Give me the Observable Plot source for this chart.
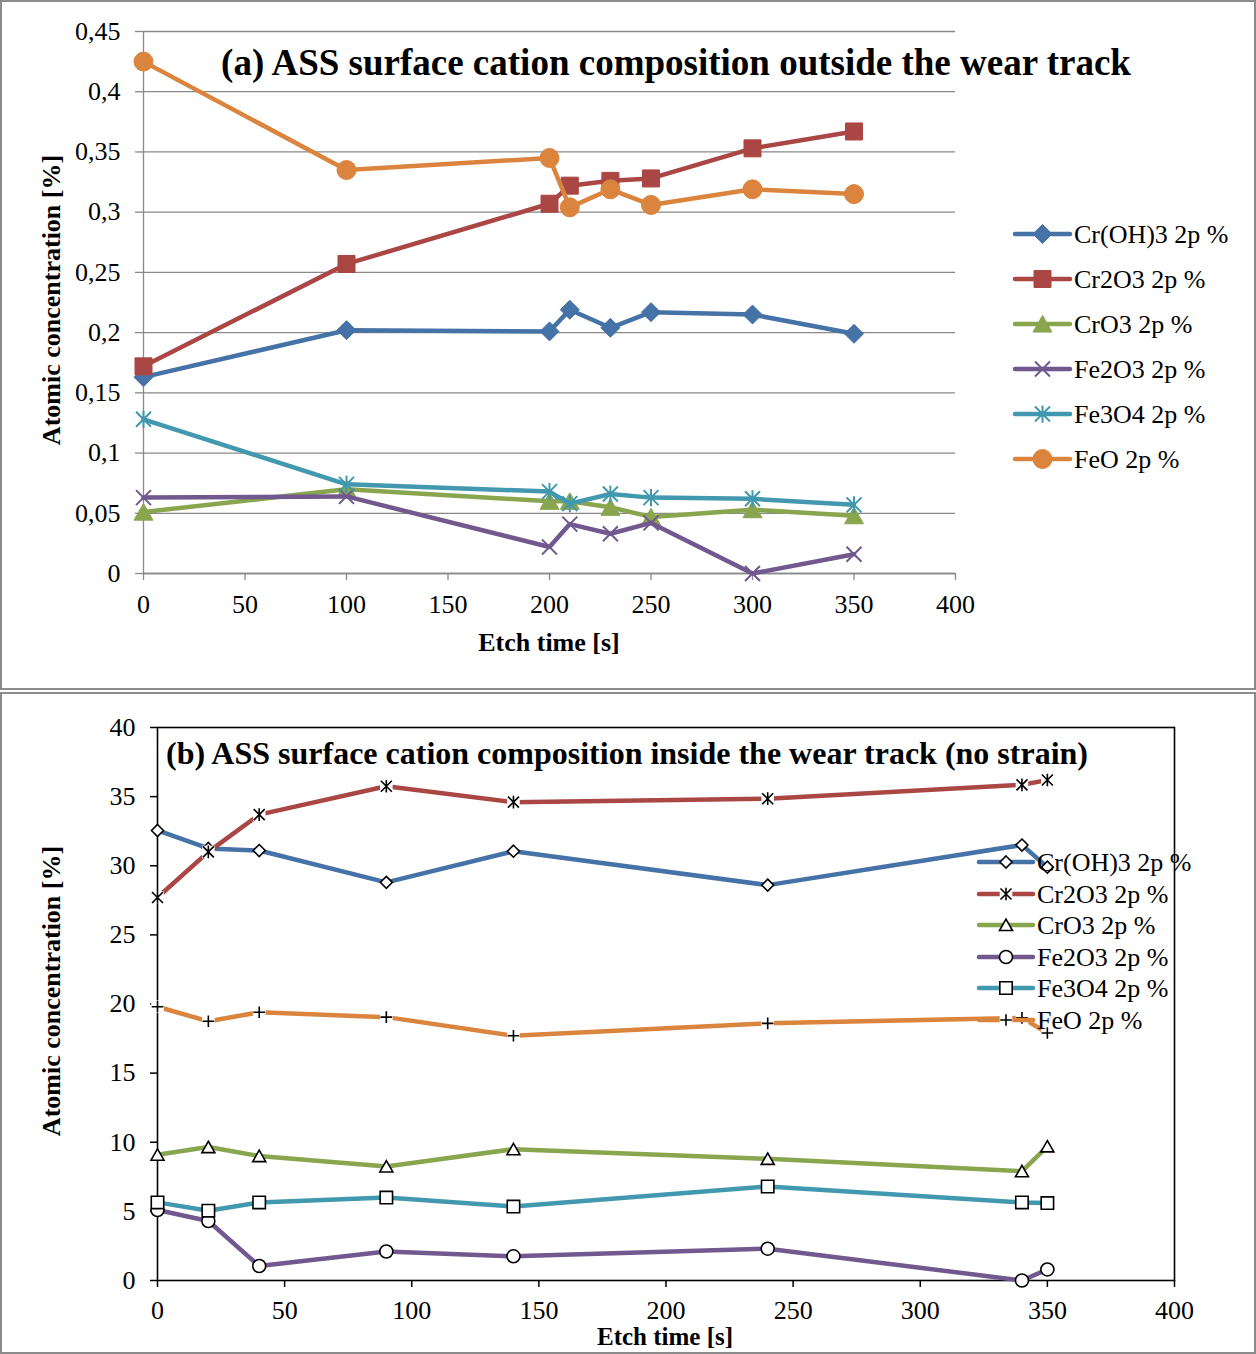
<!DOCTYPE html>
<html>
<head>
<meta charset="utf-8">
<script src="https://cdn.jsdelivr.net/npm/d3@7"></script>
<script src="https://cdn.jsdelivr.net/npm/@observablehq/plot@0.6"></script>
<style>
  body { margin: 0; background: #fff; }
  #root { position: relative; width: 1256px; height: 1354px; overflow: hidden; background: #fff; }
  .frame { position: absolute; border: 2px solid #8c8c8c; box-sizing: border-box; pointer-events: none; }
</style>
</head>
<body>
<div id="root"></div>
<script>
// ---------- data ----------
const series = ["Cr(OH)3 2p %", "Cr2O3 2p %", "CrO3 2p %", "Fe2O3 2p %", "Fe3O4 2p %", "FeO 2p %"];
const colors = ["#4572A7", "#AA4643", "#89A54E", "#71588F", "#4198AF", "#DB843D"];

// panel (a): outside the wear track
const etchA  = [0, 100, 200, 210, 230, 250, 300, 350];
const crOH3A = [0.163, 0.202, 0.201, 0.219, 0.204, 0.217, 0.215, 0.199];
const cr2o3A = [0.172, 0.257, 0.307, 0.322, 0.326, 0.328, 0.353, 0.367];
const cro3A  = [0.051, 0.070, 0.060, 0.060, 0.055, 0.047, 0.053, 0.048];
const fe2o3A = [0.063, 0.064, 0.022, 0.041, 0.033, 0.042, 0.000, 0.016];
const fe3o4A = [0.128, 0.074, 0.068, 0.058, 0.066, 0.063, 0.062, 0.057];
const feoA   = [0.425, 0.335, 0.345, 0.304, 0.319, 0.306, 0.319, 0.315];

// panel (b): inside the wear track (no strain)
const etchB  = [0, 20, 40, 90, 140, 240, 340, 350];
const crOH3B = [32.55, 31.25, 31.1, 28.8, 31.05, 28.6, 31.5, 29.9];
const cr2o3B = [27.7, 31.0, 33.7, 35.75, 34.6, 34.85, 35.85, 36.2];
const cro3B  = [9.1, 9.65, 9.0, 8.25, 9.5, 8.8, 7.9, 9.7];
const fe2o3B = [5.1, 4.3, 1.05, 2.1, 1.75, 2.3, 0.0, 0.8];
const fe3o4B = [5.65, 5.05, 5.65, 6.0, 5.35, 6.8, 5.65, 5.6];
const feoB   = [19.8, 18.75, 19.4, 19.05, 17.7, 18.6, 19.0, 17.9];

// ticks
const xTicksA = [0, 50, 100, 150, 200, 250, 300, 350, 400];
const yTicksA = [0, 0.05, 0.1, 0.15, 0.2, 0.25, 0.3, 0.35, 0.4, 0.45];
const yTickLabelsA = ["0", "0,05", "0,1", "0,15", "0,2", "0,25", "0,3", "0,35", "0,4", "0,45"];
const xTicksB = [0, 50, 100, 150, 200, 250, 300, 350, 400];
const yTicksB = [0, 5, 10, 15, 20, 25, 30, 35, 40];

const titleA = "(a) ASS surface cation composition outside the wear track";
const titleB = "(b) ASS surface cation composition inside the wear track (no strain)";
const xLabel = "Etch time [s]";
const yLabel = "Atomic concentration [%]";

// ---------- marker shapes (size = r*r*PI as in Plot) ----------
const rad = s => Math.sqrt(s / Math.PI);
const sym = {
  diamond:  {draw(c, s) { const r = rad(s); c.moveTo(0, -r); c.lineTo(r, 0); c.lineTo(0, r); c.lineTo(-r, 0); c.closePath(); }},
  square:   {draw(c, s) { const r = rad(s); c.moveTo(-r, -r); c.lineTo(r, -r); c.lineTo(r, r); c.lineTo(-r, r); c.closePath(); }},
  triangle: {draw(c, s) { const r = rad(s); c.moveTo(0, -0.9 * r); c.lineTo(r, 0.85 * r); c.lineTo(-r, 0.85 * r); c.closePath(); }},
  circle:   {draw(c, s) { const r = rad(s); c.moveTo(r, 0); c.arc(0, 0, r, 0, 2 * Math.PI); }},
  times:    {draw(c, s) { const r = rad(s); c.moveTo(-r, -r); c.lineTo(r, r); c.moveTo(-r, r); c.lineTo(r, -r); }},
  asterisk: {draw(c, s) { const r = rad(s); c.moveTo(-r, -r); c.lineTo(r, r); c.moveTo(-r, r); c.lineTo(r, -r); c.moveTo(0, -1.15 * r); c.lineTo(0, 1.15 * r); }},
  plus:     {draw(c, s) { const r = rad(s); c.moveTo(-r, 0); c.lineTo(r, 0); c.moveTo(0, -r); c.lineTo(0, r); }}
};

const markersA = [
  {symbol: sym.diamond,  r: 9.5, fill: colors[0], stroke: colors[0], sw: 1},
  {symbol: sym.square,   r: 8.5, fill: colors[1], stroke: colors[1], sw: 1},
  {symbol: sym.triangle, r: 9.5, fill: colors[2], stroke: colors[2], sw: 1},
  {symbol: sym.times,    r: 7.5, fill: "none",    stroke: colors[3], sw: 2},
  {symbol: sym.asterisk, r: 7.5, fill: "none",    stroke: colors[4], sw: 2},
  {symbol: sym.circle,   r: 9.5, fill: colors[5], stroke: colors[5], sw: 1}
];
const markersB = [
  {symbol: sym.diamond,  r: 6,   fill: "white", stroke: "black", sw: 1.6},
  {symbol: sym.asterisk, r: 5.5, fill: "none",  stroke: "black", sw: 1.6, halo: true},
  {symbol: sym.triangle, r: 6.5, fill: "white", stroke: "black", sw: 1.6},
  {symbol: sym.circle,   r: 6.5, fill: "white", stroke: "black", sw: 1.6},
  {symbol: sym.square,   r: 6.2, fill: "white", stroke: "black", sw: 1.6},
  {symbol: sym.plus,     r: 5.8, fill: "none",  stroke: "black", sw: 1.6, halo: true}
];

const valsA = [crOH3A, cr2o3A, cro3A, fe2o3A, fe3o4A, feoA];
const valsB = [crOH3B, cr2o3B, cro3B, fe2o3B, fe3o4B, feoB];
const rowsOf = (xs, vals) => series.map((s, i) => xs.map((x, j) => ({series: s, x, y: vals[i][j]})));
const rowsA = rowsOf(etchA, valsA);
const rowsB = rowsOf(etchB, valsB);

const FONT = "'Liberation Serif', 'Times New Roman', serif";
const root = document.getElementById("root");

// ---------- panel (a) ----------
const marksA = [
  Plot.gridY(yTicksA, {stroke: "#898989", strokeOpacity: 1, strokeWidth: 1.3}),
  Plot.axisY({ticks: yTicksA, tickSize: 8, tickPadding: 15, stroke: "#898989", strokeWidth: 1.3, fill: "black",
              tickFormat: d => yTickLabelsA[yTicksA.indexOf(d)], label: null}),
  Plot.axisX({ticks: xTicksA, tickSize: 7, tickPadding: 14, stroke: "#898989", strokeWidth: 1.3, fill: "black", label: null}),
  Plot.ruleX([0], {stroke: "#898989", strokeWidth: 1.3}),
  Plot.ruleY([0], {stroke: "#898989", strokeWidth: 1.3})
];
rowsA.forEach((rows, i) => {
  const m = markersA[i];
  marksA.push(Plot.line(rows, {x: "x", y: "y", stroke: colors[i], strokeWidth: 4.5}));
  marksA.push(Plot.dot(rows, {x: "x", y: "y", symbol: m.symbol, r: m.r, fill: m.fill, stroke: m.stroke, strokeWidth: m.sw}));
});
const plotA = Plot.plot({
  width: 1256, height: 690,
  marginLeft: 143, marginRight: 301, marginTop: 31, marginBottom: 117,
  x: {domain: [0, 400]}, y: {domain: [0, 0.45]},
  style: {fontFamily: FONT, fontSize: "26px", color: "black", background: "transparent", overflow: "visible"},
  marks: marksA
});
plotA.style.position = "absolute"; plotA.style.left = "0px"; plotA.style.top = "0px";
root.appendChild(plotA);

// ---------- panel (b) ----------
const marksB = [
  Plot.axisY({ticks: yTicksB, tickSize: 7, tickPadding: 15, stroke: "black", strokeWidth: 1.5, fill: "black", label: null}),
  Plot.axisX({ticks: xTicksB, tickSize: 7, tickPadding: 13, stroke: "black", strokeWidth: 1.5, fill: "black", label: null}),
  Plot.frame({stroke: "black", strokeWidth: 1.6})
];
rowsB.forEach((rows, i) => {
  const m = markersB[i];
  marksB.push(Plot.line(rows, {x: "x", y: "y", stroke: colors[i], strokeWidth: 4.5}));
  if (m.halo) marksB.push(Plot.dot(rows, {x: "x", y: "y", symbol: sym.square, r: 6.3, fill: "white", stroke: "none"}));
  marksB.push(Plot.dot(rows, {x: "x", y: "y", symbol: m.symbol, r: m.r, fill: m.fill, stroke: m.stroke, strokeWidth: m.sw}));
});
const plotB = Plot.plot({
  width: 1256, height: 662,
  marginLeft: 157, marginRight: 82, marginTop: 35, marginBottom: 74,
  x: {domain: [0, 400]}, y: {domain: [0, 40]},
  style: {fontFamily: FONT, fontSize: "26px", color: "black", background: "transparent", overflow: "visible"},
  marks: marksB
});
plotB.style.position = "absolute"; plotB.style.left = "0px"; plotB.style.top = "692px";
root.appendChild(plotB);

// ---------- frames ----------
[[0, 690], [692, 662]].forEach(([top, h]) => {
  const d = document.createElement("div");
  d.className = "frame";
  d.style.left = "0px"; d.style.top = top + "px"; d.style.width = "1256px"; d.style.height = h + "px";
  root.appendChild(d);
});

// ---------- titles, labels, legends ----------
const ov = d3.select(root).append("svg")
  .attr("width", 1256).attr("height", 1354)
  .style("position", "absolute").style("left", "0px").style("top", "0px")
  .style("font-family", FONT);

ov.append("text").attr("x", 676).attr("y", 75).attr("text-anchor", "middle")
  .attr("font-weight", "bold").attr("font-size", 37).text(titleA);
ov.append("text").attr("x", 627).attr("y", 764).attr("text-anchor", "middle")
  .attr("font-weight", "bold").attr("font-size", 32).text(titleB);

ov.append("text").attr("transform", "translate(60,300) rotate(-90)").attr("text-anchor", "middle")
  .attr("font-weight", "bold").attr("font-size", 26).text(yLabel);
ov.append("text").attr("transform", "translate(60,991) rotate(-90)").attr("text-anchor", "middle")
  .attr("font-weight", "bold").attr("font-size", 26).text(yLabel);

ov.append("text").attr("x", 549).attr("y", 651).attr("text-anchor", "middle")
  .attr("font-weight", "bold").attr("font-size", 26).text(xLabel);
ov.append("text").attr("x", 665).attr("y", 1345).attr("text-anchor", "middle")
  .attr("font-weight", "bold").attr("font-size", 25).text(xLabel);

function legend(x0, x1, xt, ys, markers) {
  const xm = (x0 + x1) / 2;
  series.forEach((s, i) => {
    const m = markers[i], y = ys[i];
    const g = ov.append("g");
    g.append("line").attr("x1", x0).attr("x2", x1).attr("y1", y).attr("y2", y)
      .attr("stroke", colors[i]).attr("stroke-width", 4.5).attr("stroke-linecap", "round");
    if (m.halo) g.append("path").attr("transform", `translate(${xm},${y})`)
      .attr("d", d3.symbol(sym.square, 6.3 * 6.3 * Math.PI)()).attr("fill", "white");
    g.append("path").attr("transform", `translate(${xm},${y})`)
      .attr("d", d3.symbol(m.symbol, m.r * m.r * Math.PI)())
      .attr("fill", m.fill).attr("stroke", m.stroke).attr("stroke-width", m.sw);
    g.append("text").attr("x", xt).attr("y", y + 9).attr("font-size", 26).text(s);
  });
}
legend(1015, 1070, 1074, [234, 279, 324, 369, 414, 459], markersA);
legend(979, 1033, 1037, [862, 894, 925, 957, 988, 1020], markersB);
</script>
</body>
</html>
